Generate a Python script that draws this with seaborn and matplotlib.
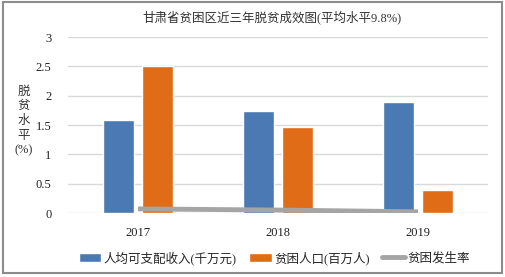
import matplotlib
matplotlib.use('Agg')
import matplotlib.pyplot as plt
from matplotlib.patches import Patch, Rectangle
from matplotlib.lines import Line2D
import pandas as pd
import seaborn as sns

# datos
years = ['2017', '2018', '2019']
income = [1.58, 1.74, 1.89]       # 人均可支配收入(千万元)
population = [2.51, 1.46, 0.39]   # 贫困人口(百万人)
rate = [0.07, 0.05, 0.02]         # 贫困发生率
series_names = ['人均可支配收入(千万元)', '贫困人口(百万人)', '贫困发生率']
title = '甘肃省贫困区近三年脱贫成效图(平均水平9.8%)'
ylabel = '脱\n贫\n水\n平\n(%)'
yticks = [0, 0.5, 1, 1.5, 2, 2.5, 3]

df = pd.DataFrame({
    'year': years * 2,
    'value': income + population,
    'series': [series_names[0]] * 3 + [series_names[1]] * 3,
})
df_rate = pd.DataFrame({'year': years, 'rate': rate})

sns.set_style('white')
plt.rcParams['font.family'] = ['Liberation Serif', 'Noto Sans CJK SC', 'DejaVu Sans']

blue, orange, gray = '#4a79b3', '#e06c17', '#a5a5a5'

fig = plt.figure(figsize=(5.05, 2.77), dpi=100)
ax = fig.add_axes([68 / 505, 1 - 213 / 277, 420 / 505, 176 / 277])

sns.barplot(data=df, x='year', y='value', hue='series', palette=[blue, orange],
            width=0.56, gap=0.2, ax=ax, legend=False, saturation=1)
sns.lineplot(data=df_rate, x='year', y='rate', color=gray, lw=3.5, ax=ax,
             solid_capstyle='butt')

ax.set_ylim(0, 3)
ax.set_xlim(-0.5, 2.5)
ax.set_yticks(yticks)
ax.set_yticklabels(['0', '0.5', '1', '1.5', '2', '2.5', '3'])
ax.yaxis.grid(True, color='#d9d9d9', lw=1)
ax.set_axisbelow(True)
for s in ax.spines.values():
    s.set_visible(False)
ax.tick_params(axis='both', length=0, labelsize=9, colors='#222222')
ax.tick_params(axis='x', pad=10)
ax.tick_params(axis='y', pad=12)
ax.set_xlabel('')
ax.set_ylabel('')

fig.text(24 / 505, 1 - 121 / 277, ylabel, ha='center', va='center',
         fontsize=9, linespacing=1.3, color='#333333')
fig.text(272 / 505, 1 - 17 / 277, title, ha='center', va='center',
         fontsize=9, color='#333333')

handles = [Patch(facecolor=blue), Patch(facecolor=orange),
           Line2D([0], [0], color=gray, lw=3.5)]
fig.legend(handles, series_names, loc='center', bbox_to_anchor=(274 / 505, 1 - 258 / 277),
           ncol=3, frameon=False, fontsize=9, handlelength=1.8, handleheight=0.8,
           columnspacing=1.0, handletextpad=0.2)

fig.patches.append(Rectangle((3 / 505, 1 - 273 / 277), 499 / 505, 271 / 277,
                             transform=fig.transFigure, fill=False,
                             edgecolor='#8c8c8c', lw=1.5))

plt.savefig('out.png', dpi=100)
